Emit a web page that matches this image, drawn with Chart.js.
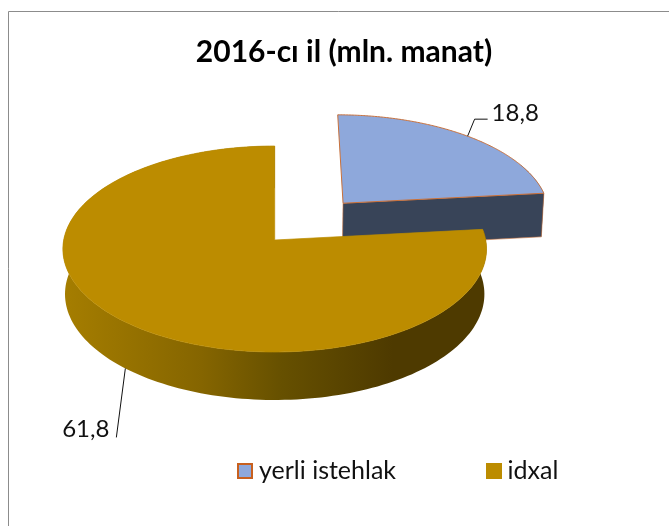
<!DOCTYPE html>
<html>
<head>
<meta charset="utf-8">
<style>html,body{margin:0;padding:0;background:#fff}canvas{display:block}</style>
<script src="https://cdn.jsdelivr.net/npm/chart.js@4"></script>
</head>
<body>
<canvas id="c" width="669" height="526"></canvas>
<script>
const titleText = '2016-cı il (mln. manat)';
const categories = ['yerli istehlak', 'idxal'];
const values = [18.8, 61.8];
const valueLabels = ['18,8', '61,8'];
const topColors = ['#8EA8DB', '#BC8C00'];
const FONT = 'Lato, Carlito, sans-serif';

// Perspective view of the flat pie: plane coords (X, Z in radii) and height h.
const view = {ox: 274.7, oy: 240, f: 211, A: 102.2, k: 0.0874, B: 45.4, m: 0.01};
function project(X, Z, h) {
  const w = 1 - view.k * Z + view.m * h;
  return [view.ox + view.f * X / w, view.oy + (view.A * Z + view.B * h) / w];
}
function geom(arc) {
  const p = arc.getProps(['x', 'y', 'startAngle', 'endAngle', 'outerRadius']);
  const mid = (p.startAngle + p.endAngle) / 2, off = (arc.options.offset || 0) / p.outerRadius;
  const cx = Math.cos(mid) * off, cz = Math.sin(mid) * off;
  const pt = (a, h) => project(cx + Math.cos(a), cz + Math.sin(a), h);
  const rim = (h, rev) => {
    const out = [], n = 180;
    for (let i = 0; i <= n; i++) {
      const t = rev ? 1 - i / n : i / n;
      out.push(pt(p.startAngle + (p.endAngle - p.startAngle) * t, h));
    }
    return out;
  };
  return {p, mid, cx, cz, pt, rim, apex: h => project(cx, cz, h)};
}
function poly(ctx, pts) {
  ctx.beginPath();
  pts.forEach((q, i) => i ? ctx.lineTo(q[0], q[1]) : ctx.moveTo(q[0], q[1]));
  ctx.closePath();
}
function legendSwatch(fill, stroke) {
  const cv = document.createElement('canvas');
  cv.width = 16; cv.height = 16;
  const g = cv.getContext('2d');
  g.fillStyle = fill; g.fillRect(0, 0, 16, 16);
  if (stroke) { g.strokeStyle = stroke; g.lineWidth = 2; g.strokeRect(1, 1, 14, 14); }
  return cv;
}
const pie3d = {
  id: 'pie3d',
  afterLayout(chart) {
    const lg = chart.legend, pad = lg.options.labels.padding;
    lg.left = 243.5 - pad;
    lg.right = 800;
    lg.top = 471 - 12.5 - pad;
    chart.titleBlock.left = 19;
    chart.titleBlock.right = 669;
  },
  beforeDraw(chart) {
    const ctx = chart.ctx;
    ctx.save();
    ctx.strokeStyle = '#8c8c8c'; ctx.lineWidth = 1;
    ctx.beginPath(); ctx.moveTo(8.5, 526); ctx.lineTo(8.5, 11.5); ctx.lineTo(669, 11.5); ctx.stroke();
    ctx.restore();
  },
  beforeDatasetDraw(chart) {
    const ctx = chart.ctx, arcs = chart.getDatasetMeta(0).data;
    const blue = geom(arcs[0]), gold = geom(arcs[1]);
    ctx.save();
    ctx.lineJoin = 'round';
    // blue slice: only the rim part near the cut edge shows below the top face
    const wallBlue = '#384458', edge = '#C8703A';
    ctx.fillStyle = wallBlue;
    poly(ctx, blue.rim(0, false).slice(-40).concat(blue.rim(1, true).slice(0, 40)));
    ctx.fill();
    poly(ctx, [blue.apex(0), blue.pt(blue.p.endAngle, 0), blue.pt(blue.p.endAngle, 1), blue.apex(1)]);
    ctx.fill();
    ctx.strokeStyle = edge; ctx.lineWidth = 0.6; ctx.stroke();
    poly(ctx, [blue.apex(0)].concat(blue.rim(0, false)));
    ctx.fillStyle = topColors[0]; ctx.fill();
    ctx.strokeStyle = edge; ctx.lineWidth = 1; ctx.stroke();
    // gold slice
    const g = ctx.createLinearGradient(61, 0, 486, 0);
    g.addColorStop(0, '#A67E00');
    g.addColorStop(0.33, '#856500');
    g.addColorStop(0.52, '#665000');
    g.addColorStop(0.78, '#4E3A00');
    g.addColorStop(1, '#4E3A00');
    ctx.fillStyle = g;
    poly(ctx, gold.rim(0, false).concat(gold.rim(1, true)));
    ctx.fill();
    poly(ctx, [gold.apex(0)].concat(gold.rim(0, false)));
    ctx.fillStyle = topColors[1]; ctx.fill();
    ctx.strokeStyle = topColors[1]; ctx.lineWidth = 0.7; ctx.stroke();
    // value labels with leader lines
    ctx.strokeStyle = '#111'; ctx.lineWidth = 1;
    ctx.fillStyle = '#111'; ctx.font = '24px ' + FONT;
    ctx.textBaseline = 'middle';
    const a = blue.pt(blue.mid, 0);
    ctx.beginPath(); ctx.moveTo(a[0], a[1]); ctx.lineTo(a[0] + 7, a[1] - 17); ctx.lineTo(a[0] + 20, a[1] - 17); ctx.stroke();
    ctx.textAlign = 'left';
    ctx.fillText(valueLabels[0], a[0] + 24, a[1] - 23);
    const b = gold.pt(gold.mid, 1);
    ctx.beginPath(); ctx.moveTo(b[0], b[1]); ctx.lineTo(b[0] - 9, b[1] + 69); ctx.stroke();
    ctx.textAlign = 'right';
    ctx.fillText(valueLabels[1], b[0] - 16, b[1] + 61);
    ctx.restore();
    return false;
  }
};
new Chart(document.getElementById('c'), {
  type: 'pie',
  data: {
    labels: categories,
    datasets: [{data: values, backgroundColor: topColors, borderColor: ['#C55A11', topColors[1]], borderWidth: 0, offset: [100, 0], radius: 200}]
  },
  plugins: [pie3d],
  options: {
    responsive: false,
    animation: false,
    events: [],
    radius: 200,
    layout: {padding: 0},
    plugins: {
      tooltip: {enabled: false},
      title: {display: true, text: titleText, color: '#000', padding: {top: 34, bottom: 10},
        font: {family: FONT, size: 30, weight: 'bold'}},
      legend: {
        position: 'bottom', align: 'start',
        labels: {
          color: '#111', font: {family: FONT, size: 25}, padding: 96, usePointStyle: true, pointStyleWidth: 3,
          generateLabels(chart) {
            const items = Chart.overrides.doughnut.plugins.legend.labels.generateLabels(chart);
            items[0].pointStyle = legendSwatch(topColors[0], '#C8601E');
            items[1].pointStyle = legendSwatch(topColors[1], null);
            return items;
          }
        }
      }
    }
  }
});
</script>
</body>
</html>
